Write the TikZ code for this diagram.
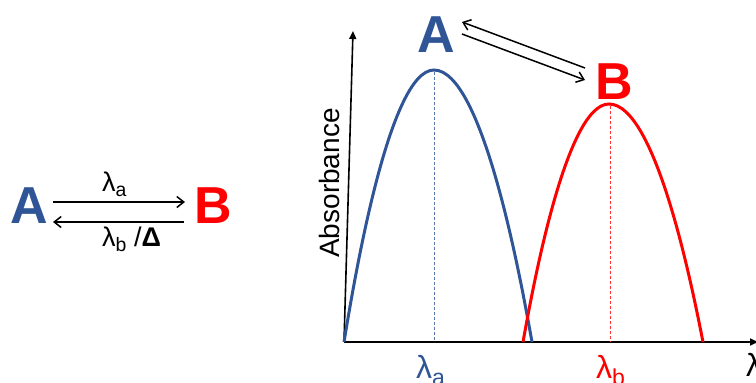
\documentclass[tikz,border=0pt]{standalone}
\usepackage{fontspec}
\setmainfont{Liberation Sans}
\usetikzlibrary{arrows.meta}
\definecolor{ablue}{HTML}{2F5597}
\definecolor{bred}{HTML}{FF0000}
\tikzset{
  big/.style={font=\fontsize{52}{56}\selectfont\bfseries, inner sep=0pt},
  lab/.style={font=\fontsize{27}{30}\selectfont, inner sep=0pt, anchor=base west},
  biglab/.style={font=\fontsize{32}{36}\selectfont, inner sep=0pt, anchor=base west},
  arr/.style={line width=1.5pt, -{Straight Barb[length=7pt,width=11pt]}},
  axis/.style={line width=1.6pt, -{Triangle[length=8pt,width=7pt]}},
  curve/.style={line width=3pt},
  guide/.style={densely dashed, line width=0.8pt}
}
\newcommand{\sbx}[1]{\raisebox{-0.22em}{\fontsize{0.72em}{1em}\selectfont #1}}
\begin{document}
\begin{tikzpicture}[x=1pt,y=-1pt]
\useasboundingbox (0,0) rectangle (756,383);
% left scheme
\node[big, text=ablue] (la) at (29,206) {A};
\node[big, text=bred] (lb) at (213,206) {B};
\coordinate (t1) at (53,202); \coordinate (t2) at (185,202);
\coordinate (b1) at (184,222); \coordinate (b2) at (53,222);
\draw[arr] (t1) -- (t2);
\draw[arr] (b1) -- (b2);
\node[lab] (lam1) at (102,191) {λ\sbx{a}};
\node[lab] (lam2) at (102,246) {λ\sbx{b} /\textbf{Δ}};
% axes
\coordinate (o) at (344,342);
\coordinate (ytop) at (353,31);
\coordinate (xend) at (758,342);
\draw[axis] (o) -- (ytop);
\draw[axis] (o) -- (xend);
\node[inner sep=0pt, font=\fontsize{28}{30}\selectfont, rotate=90] (absl) at (329,183) {Absorbance};
\node[biglab] (laml) at (746,376) {λ};
% curves
\draw[curve, ablue] (344,342) parabola bend (434,70) (532,342);
\draw[curve, bred] (523,342) parabola bend (609,104) (703,342);
\coordinate (pa) at (434,72); \coordinate (pb) at (610,106);
\coordinate (pa0) at (434,342); \coordinate (pb0) at (610,342);
\draw[guide, ablue!80] (pa) -- (pa0);
\draw[guide, bred!80] (pb) -- (pb0);
\node[biglab, text=ablue] (laa) at (416,378) {λ\sbx{a}};
\node[biglab, text=bred] (lbb) at (596,378) {λ\sbx{b}};
% right A B
\node[big, text=ablue] (ra) at (436,35) {A};
\node[big, text=bred] (rb) at (614,82) {B};
\coordinate (u1) at (585,68); \coordinate (u2) at (462,22);
\coordinate (d1) at (462,34); \coordinate (d2) at (585,80);
\draw[arr] (u1) -- (u2);
\draw[arr] (d1) -- (d2);
\end{tikzpicture}
\end{document}
